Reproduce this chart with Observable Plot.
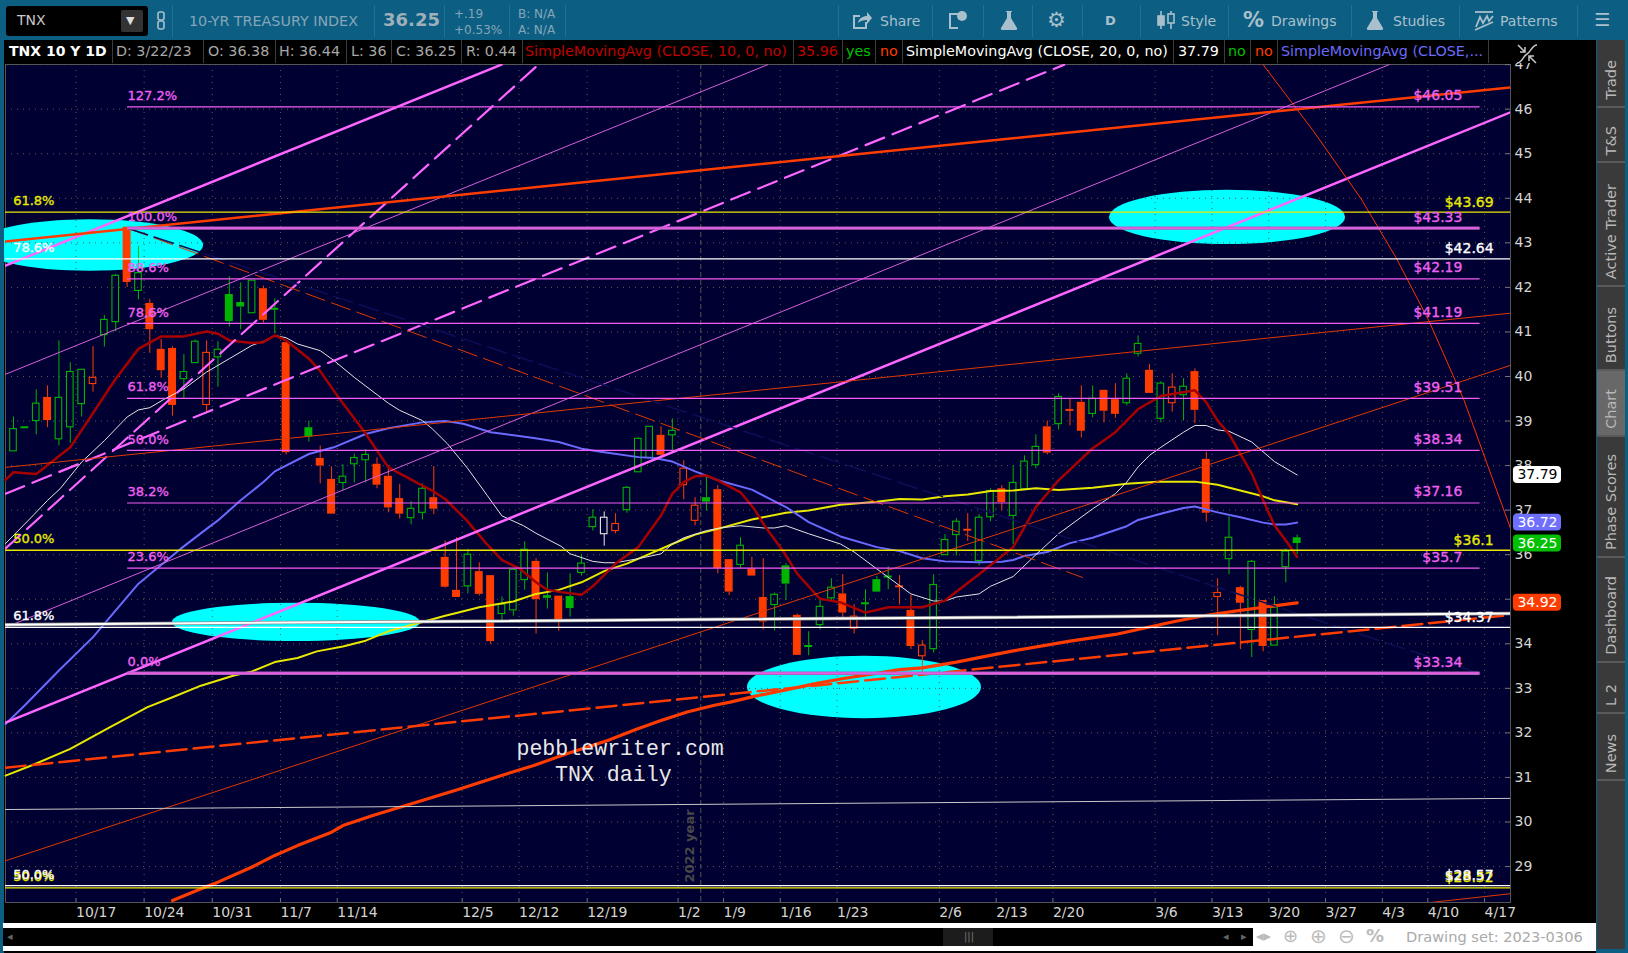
<!DOCTYPE html>
<html>
<head>
<meta charset="utf-8">
<script src="https://cdn.jsdelivr.net/npm/d3@7"></script>
<script src="https://cdn.jsdelivr.net/npm/@observablehq/plot@0.6"></script>
<style>
html,body{margin:0;padding:0;width:1628px;height:953px;overflow:hidden;background:#0c5e83;font-family:"DejaVu Sans",sans-serif}
#chart{position:absolute;left:0;top:0}
#chart svg{display:block;max-width:none}
.b{position:absolute}
.t{position:absolute;white-space:nowrap;line-height:1}
.hd{font-size:14.3px;top:44px;color:#a8a8a8}
.sep{position:absolute;top:40px;height:23px;width:1px;background:#3c3c3c}
.tb{position:absolute;top:5px;height:32px;width:1px;background:#1d7396}
.btn{font-size:14px;top:14px;color:#a9c0cc}
.ic{position:absolute;top:9px}
.tab{position:absolute;left:1597px;width:28px;background:#3a3a3a;border-bottom:2px solid #5a5a5a;box-sizing:border-box}
.tab span{position:absolute;left:6px;bottom:6px;writing-mode:vertical-rl;transform:rotate(180deg);white-space:nowrap;color:#b8b8b8;font-size:14.5px;line-height:16px}
</style>
</head>
<body>
<div id="chart"></div>

<!-- application chrome -->
<div class="b" style="left:0;top:0;width:4px;height:953px;background:#0c5e83"></div>
<div class="b" style="left:0;top:0;width:1628px;height:40px;background:#0c5e83"></div>
<div class="b" style="left:6px;top:6px;width:142px;height:30px;background:#000;border-radius:3px"></div>
<div class="t" style="left:17px;top:13px;font-size:14px;color:#c8c8c8">TNX</div>
<div class="b" style="left:121px;top:10px;width:22px;height:22px;background:#333;border-radius:2px"></div>
<div class="t" style="left:126px;top:15px;font-size:11px;color:#ddd">&#9660;</div>
<svg class="ic" style="left:156px;top:10px" width="10" height="22" fill="none" stroke="#a9c0cc" stroke-width="1.6"><rect x="2" y="2" width="6" height="8" rx="2"/><rect x="2" y="11" width="6" height="8" rx="2"/></svg>
<div class="tb" style="left:172px"></div>
<div class="t" style="left:189px;top:14px;font-size:14.3px;color:#86a6b8">10-YR TREASURY INDEX</div>
<div class="tb" style="left:374px"></div>
<div class="t" style="left:383px;top:11px;font-size:18px;font-weight:bold;color:#9fb0ba">36.25</div>
<div class="tb" style="left:444px"></div>
<div class="t" style="left:454px;top:8px;font-size:12px;color:#86a6b8">+.19</div>
<div class="t" style="left:454px;top:24px;font-size:12px;color:#86a6b8">+0.53%</div>
<div class="tb" style="left:509px"></div>
<div class="t" style="left:518px;top:8px;font-size:12px;color:#86a6b8">B: N/A</div>
<div class="t" style="left:518px;top:24px;font-size:12px;color:#86a6b8">A: N/A</div>
<div class="tb" style="left:565px"></div>

<div class="tb" style="left:838px"></div>
<svg class="ic" style="left:851px" width="22" height="22" fill="none" stroke="#a9c0cc" stroke-width="2"><path d="M15 13v6H3V7h6"/><path d="M7 14c1-5 5-7 9-7V3l5 6-5 6v-4c-4 0-7 1-9 3z" fill="#a9c0cc" stroke="none"/></svg>
<div class="t btn" style="left:880px">Share</div>
<div class="tb" style="left:932px"></div>
<svg class="ic" style="left:947px" width="22" height="22" fill="none" stroke="#a9c0cc" stroke-width="2"><path d="M11 19H3V5h9"/><circle cx="15" cy="7" r="5" fill="#a9c0cc" stroke="none"/></svg>
<div class="tb" style="left:983px"></div>
<svg class="ic" style="left:998px" width="22" height="22"><path d="M8 2h6v1h-1v6l6 10c.4 1-.2 2-1 2H4c-.8 0-1.400-1-1-2l6-10V3H8z" fill="#a9c0cc"/></svg>
<div class="tb" style="left:1032px"></div>
<div class="t" style="left:1047px;top:10px;font-size:21px;color:#a9c0cc">&#9881;</div>
<div class="tb" style="left:1082px"></div>
<div class="t" style="left:1105px;top:14px;font-size:13px;font-weight:bold;color:#a9c0cc">D</div>
<div class="tb" style="left:1140px"></div>
<svg class="ic" style="left:1155px" width="22" height="22" fill="none" stroke="#a9c0cc" stroke-width="1.6"><path d="M6 2v18M16 2v18"/><rect x="3" y="7" width="6" height="9" fill="#a9c0cc"/><rect x="13" y="5" width="6" height="9" fill="#0c5e83"/></svg>
<div class="t btn" style="left:1181px">Style</div>
<div class="tb" style="left:1228px"></div>
<div class="t" style="left:1243px;top:10px;font-size:21px;font-weight:bold;color:#a9c0cc">%</div>
<div class="t btn" style="left:1271px">Drawings</div>
<div class="tb" style="left:1351px"></div>
<svg class="ic" style="left:1364px" width="22" height="22"><path d="M8 2h6v1h-1v6l6 10c.4 1-.2 2-1 2H4c-.8 0-1.400-1-1-2l6-10V3H8z" fill="#a9c0cc"/></svg>
<div class="tb" style="left:1459px"></div>
<div class="t btn" style="left:1393px">Studies</div>
<svg class="ic" style="left:1473px" width="22" height="22" fill="none" stroke="#a9c0cc" stroke-width="1.8"><path d="M2 3h18"/><path d="M3 18l4-10 3 6 4-7 2 5 4-5"/><path d="M2 21l18-8"/></svg>
<div class="t btn" style="left:1500px">Patterns</div>
<div class="tb" style="left:1577px"></div>
<div class="t" style="left:1594px;top:11px;font-size:18px;color:#a9c0cc">&#9776;</div>

<!-- study header strip -->
<div class="b" style="left:4px;top:40px;width:1592px;height:23px;background:#000"></div>
<div class="t hd" style="left:9px;font-weight:bold;font-size:14px;color:#fff">TNX 10 Y 1D</div>
<div class="sep" style="left:112px"></div>
<div class="t hd" style="left:116px">D: 3/22/23</div>
<div class="sep" style="left:203px"></div>
<div class="t hd" style="left:208px">O: 36.38</div>
<div class="sep" style="left:275px"></div>
<div class="t hd" style="left:279px">H: 36.44</div>
<div class="sep" style="left:346px"></div>
<div class="t hd" style="left:351px">L: 36</div>
<div class="sep" style="left:391px"></div>
<div class="t hd" style="left:396px">C: 36.25</div>
<div class="sep" style="left:461px"></div>
<div class="t hd" style="left:466px">R: 0.44</div>
<div class="sep" style="left:522px"></div>
<div class="t hd" style="left:525px;color:#c00000">SimpleMovingAvg (CLOSE, 10, 0, no)</div>
<div class="sep" style="left:793px"></div>
<div class="t hd" style="left:797px;color:#c00000">35.96</div>
<div class="sep" style="left:842px"></div>
<div class="t hd" style="left:846px;color:#00c000">yes</div>
<div class="sep" style="left:875px"></div>
<div class="t hd" style="left:880px;color:#ff3c00">no</div>
<div class="sep" style="left:902px"></div>
<div class="t hd" style="left:906px;color:#fff">SimpleMovingAvg (CLOSE, 20, 0, no)</div>
<div class="sep" style="left:1173px"></div>
<div class="t hd" style="left:1178px;color:#fff">37.79</div>
<div class="sep" style="left:1224px"></div>
<div class="t hd" style="left:1228px;color:#00c000">no</div>
<div class="sep" style="left:1250px"></div>
<div class="t hd" style="left:1255px;color:#ff3c00">no</div>
<div class="sep" style="left:1277px"></div>
<div class="t hd" style="left:1281px;color:#6a6aff">SimpleMovingAvg (CLOSE,...</div>
<div class="sep" style="left:1488px"></div>
<svg class="b" style="left:1516px;top:43px" width="22" height="22" viewBox="0 0 22 22" fill="none" stroke="#c8c8c8" stroke-width="1.5"><path d="M1 20C6 20 7 13 11 11S16 2 21 2"/><path d="M2 2l7 7M4 9h5V4M20 20l-7-7M13 18v-5h5"/></svg>

<!-- right tabs -->
<div class="b" style="left:1596px;top:40px;width:32px;height:913px;background:#0c5e83"></div>
<div class="tab" style="top:40px;height:68px"><span>Trade</span></div>
<div class="tab" style="top:108px;height:55px"><span>T&amp;S</span></div>
<div class="tab" style="top:163px;height:124px"><span>Active Trader</span></div>
<div class="tab" style="top:287px;height:84px"><span>Buttons</span></div>
<div class="tab" style="top:371px;height:66px;background:#686868"><span>Chart</span></div>
<div class="tab" style="top:437px;height:121px"><span>Phase Scores</span></div>
<div class="tab" style="top:558px;height:105px"><span>Dashboard</span></div>
<div class="tab" style="top:663px;height:51px"><span>L 2</span></div>
<div class="tab" style="top:714px;height:67px"><span>News</span></div>
<div class="tab" style="top:781px;height:168px;border:0"></div>

<!-- bottom strip -->
<div class="b" style="left:3px;top:923px;width:1593px;height:28px;background:#fff"></div>
<div class="b" style="left:3px;top:928px;width:1250px;height:18px;background:#000"></div>
<div class="b" style="left:943px;top:928px;width:50px;height:18px;background:#1c1c1c"></div>
<div class="t" style="left:964px;top:932px;font-size:10px;color:#777">|||</div>
<div class="t" style="left:7px;top:931px;font-size:11px;color:#666">&#9666;</div>
<div class="t" style="left:1223px;top:931px;font-size:11px;color:#666">&#9666;</div>
<div class="t" style="left:1241px;top:931px;font-size:11px;color:#666">&#9656;</div>
<div class="t" style="left:1256px;top:929px;font-size:15px;color:#bbb">&#9666;&#9656;</div>
<div class="t" style="left:1283px;top:927px;font-size:18px;color:#bbb">&#8853;</div>
<div class="t" style="left:1310px;top:926px;font-size:20px;color:#bbb">&#8853;</div>
<div class="t" style="left:1338px;top:926px;font-size:20px;color:#bbb">&#8854;</div>
<div class="t" style="left:1366px;top:927px;font-size:18px;font-weight:bold;color:#bbb">%</div>
<div class="t" style="left:1406px;top:930px;font-size:14.6px;color:#aaa">Drawing set: 2023-0306</div>

<script>
// ---------- axes ----------
const priceTicks = [29,30,31,32,33,34,35,36,37,38,39,40,41,42,43,44,45,46,47];
const dateTickSlots = [5.5,11.5,17.5,23.5,28.5,39.5,44.5,50.5,58.5,62.5,67.5,72.5,81.5,86.5,91.5,100.5,105.5,110.5,115.5,120.5,124.5,129.5];
const dateTickLabels = ["10/17","10/24","10/31","11/7","11/14","12/5","12/12","12/19","1/2","1/9","1/16","1/23","2/6","2/13","2/20","3/6","3/13","3/20","3/27","4/3","4/10","4/17"];
const yearSlot = 60.5;

// ---------- daily candles ----------
const barSlots = [0,1,2,3,4,5,6,7,8,9,10,11,12,13,14,15,16,17,18,19,20,21,22,23,24,
26,27,28,29,30,31,32,33,34,35,36,37,38,39,40,41,42,43,44,45,46,47,48,49,
50,51,52,53,54,55,56,57,58,59,60,61,62,63,64,65,66,67,68,69,
70,71,72,73,74,75,76,77,78,79,80,81,82,83,84,85,86,87,88,89,
90,91,92,93,94,95,96,97,98,99,100,101,102,103,104,105,106,107,108,109,110,111,112,113];
const opens = [38.32,38.86,39.00,39.53,38.59,38.86,39.38,39.83,40.93,41.22,
43.35,41.92,41.64,40.61,40.63,39.94,40.30,39.36,40.43,41.84,
41.66,41.42,41.97,41.52,40.76,
38.85,38.16,37.69,37.61,
38.03,38.12,38.03,37.76,37.26,36.82,36.94,37.28,35.94,35.20,
35.29,35.62,35.53,34.67,34.75,35.43,35.85,35.08,35.07,35.06,
35.59,36.62,36.46,36.53,37.00,37.85,38.17,38.68,38.68,37.56,
36.76,37.28,37.46,35.89,35.77,35.68,35.04,34.87,35.75,34.64,
33.95,34.42,35.02,35.12,34.34,34.91,35.44,35.51,35.29,34.75,
33.72,33.88,35.99,36.44,36.56,35.86,36.84,37.48,36.87,37.47,
38.01,38.87,38.93,39.25,39.42,39.16,39.69,39.48,39.40,40.51,
40.14,39.05,39.40,39.58,40.11,38.14,35.05,35.90,35.26,34.31,
34.97,33.96,35.72,36.38];
const highs = [39.09,38.86,39.70,39.79,40.80,40.31,40.15,40.67,41.37,42.29,
43.35,42.92,41.73,40.83,40.67,40.49,40.82,40.80,40.78,42.24,
42.10,42.15,42.03,41.74,40.76,
39.00,38.44,37.97,38.02,
38.26,38.36,38.17,38.00,37.58,37.19,37.59,37.98,36.31,36.38,
36.12,35.82,35.53,35.05,35.66,36.29,35.91,35.59,35.07,35.57,
36.00,37.01,36.96,36.92,37.53,38.62,38.87,38.87,39.05,38.11,
37.28,37.76,37.55,35.89,36.38,35.94,35.91,35.14,35.80,34.67,
34.27,34.99,35.46,35.55,34.88,35.21,35.51,35.73,35.53,35.09,
34.07,35.55,36.45,36.81,36.92,36.90,37.48,37.55,38.00,38.22,
38.69,39.00,39.61,39.50,39.79,39.79,39.69,39.84,40.06,40.91,
40.27,39.88,40.06,39.95,40.17,38.30,35.46,36.85,35.29,35.87,
34.97,35.06,36.13,36.44];
const lows = [38.32,38.86,38.69,38.85,38.44,38.50,39.09,39.65,40.66,41.00,
42.00,41.72,40.52,39.96,39.11,39.50,40.30,39.19,39.76,41.11,
41.05,41.42,41.20,40.96,38.24,
38.53,37.59,36.91,37.44,
37.61,37.61,37.48,36.94,36.80,36.67,36.78,36.90,35.25,35.04,
35.12,35.07,33.99,34.46,34.62,35.20,34.22,34.78,34.28,34.60,
35.52,36.53,36.19,36.47,36.93,37.85,38.17,38.19,38.34,37.23,
36.65,36.98,35.57,35.08,35.68,35.52,34.31,34.29,34.97,33.74,
33.73,34.31,34.93,34.58,34.22,34.51,35.16,35.21,34.87,33.87,
33.33,33.79,35.99,35.97,36.30,35.75,36.74,36.99,36.23,37.47,
37.93,38.24,38.80,38.89,38.62,39.07,38.96,39.06,39.34,40.44,
39.62,38.96,39.20,39.00,38.94,36.73,34.18,35.55,33.87,33.69,
33.82,33.96,35.37,36.00];
const closes = [38.82,38.86,39.39,39.01,39.52,40.10,40.15,39.97,41.27,42.26,
42.11,42.32,41.05,40.13,39.35,40.10,40.78,40.53,40.60,41.23,
41.56,42.15,41.26,41.52,38.29,
38.64,37.99,36.91,37.75,
38.17,38.24,37.56,37.05,36.91,37.03,37.48,37.02,35.27,35.04,
36.00,35.11,34.05,34.88,35.66,36.11,34.99,35.02,34.49,34.79,
35.80,36.83,36.83,36.69,37.50,38.60,38.87,38.23,38.78,37.93,
37.10,37.18,35.69,35.16,36.20,35.52,34.49,35.10,35.34,33.74,
33.95,34.83,35.26,34.69,34.61,34.91,35.16,35.51,35.29,33.94,
33.96,35.32,36.33,36.74,36.56,36.83,37.43,37.17,37.61,38.09,
38.42,38.28,39.54,39.25,38.77,39.50,39.22,39.15,39.95,40.73,
39.62,39.84,39.75,39.77,39.24,36.93,35.14,36.38,34.91,35.84,
33.94,34.81,36.07,36.25];
const barTones = "gggrgggrgg" + "rgrrrggrgg" + "ggrgr" + "grrg" + "ggrrrggrrr" +
  "grrgggrgrg" + "ggwrgggrgr" + "rgrrgrrggr" + "gggrrgggrr" + "rgggrggrgg" + "grgrrgrrgg" + "rgrgrrrgrg" + "rggg";

// ---------- moving averages ----------
const sma10Slots = [-0.7,0,2,5,9,11,13,15,17,18,19,21,22,23,24,26,27,28.5,30.8,33,36,36.85,38,39.9,41.7,43,44.6,46,47,48.2,50,51,53,55,57,58,59,60,61,62,64,65.2,66.2,67.8,69,70.2,71,72.8,75,76,77,80,82,85,88,90,92,95,97,99,101,104,105,106,107,109,110,111,112,113];
const sma10Prices = [37.68,37.85,37.81,38.41,39.95,40.62,40.90,40.90,41.01,40.96,40.81,40.75,40.77,40.92,40.81,40.40,40.12,39.57,38.79,37.96,37.55,37.44,37.25,36.77,36.23,35.88,35.68,35.38,35.21,35.16,35.10,35.29,35.80,36.17,36.88,37.37,37.63,37.76,37.78,37.67,37.40,37.03,36.62,36.06,35.57,35.23,35.01,34.93,34.70,34.76,34.82,34.82,34.97,35.56,36.17,37.07,37.67,38.39,38.75,39.27,39.56,39.69,39.42,39.01,38.71,37.82,37.22,36.66,36.32,35.95];
const sma20Slots = [-0.7,1.8,3,4.1,6,8,10,11,12,13.2,15,17,19,21,22,23,24,25,27,28.2,30,33,34,36,36.85,38.2,40,41.7,43,44.9,46,48.2,49,51,52,53,55,57,58,59,61,62.2,64,66,67,68,70,72.8,74,76,79,81,82,83,85,86,88,90,92,95,97,98,99,100,101,103,104,105,106,107,109,111,113];
const sma20Prices = [36.25,36.9,37.22,37.48,38.08,38.56,39.09,39.25,39.30,39.48,39.72,40.10,40.40,40.70,40.79,40.92,40.87,40.73,40.58,40.36,39.98,39.40,39.24,39.01,38.83,38.49,37.93,37.33,36.87,36.65,36.48,36.19,36.02,35.85,35.82,35.82,35.91,36.02,36.24,36.38,36.54,36.60,36.65,36.60,36.60,36.65,36.47,36.24,36.06,35.68,35.12,34.96,34.96,35.05,35.12,35.29,35.51,36.00,36.47,37.03,37.37,37.63,37.97,38.23,38.41,38.75,38.90,38.90,38.80,38.77,38.53,38.09,37.79];
const sma50Slots = [-0.7,1,4,7,11,14.7,17,18,20,22,23,26,28.2,31,33,36,38,39.6,42,43.2,45.8,48,50,52,55,56.4,58,60,62,65,68,70,72.8,76,78,80,82,85,87,88,89,91,93,95,98,99,101,103,104,106,108,110,111,112,113];
const sma50Prices = [32.20,32.62,33.40,34.15,35.35,36.13,36.58,36.77,37.22,37.63,37.87,38.26,38.41,38.71,38.84,38.97,39.00,38.94,38.75,38.71,38.62,38.53,38.38,38.30,38.19,38.17,38.09,37.87,37.67,37.46,37.07,36.73,36.41,36.17,36.08,35.92,35.85,35.83,35.84,35.88,35.97,36.06,36.26,36.38,36.64,36.78,36.92,37.05,37.08,36.95,36.84,36.72,36.68,36.68,36.72];
const sma100Slots = [-0.7,1.8,5,8.5,11.8,14,16.5,19.4,21,23,25,26.7,29,31,33.2,36,38,39,41,44,46,48,50,52,54,56,58,60,62,65,68,70,72.8,76,78,80,82,84,86,88,90,92,95,98,100.7,104,106,108,110,111,113];
const sma100Prices = [31.04,31.29,31.64,32.13,32.58,32.80,33.06,33.29,33.38,33.59,33.68,33.83,33.94,34.07,34.30,34.49,34.63,34.69,34.82,34.95,35.12,35.21,35.38,35.63,35.80,36.02,36.24,36.45,36.58,36.79,36.94,36.99,37.12,37.19,37.25,37.24,37.31,37.35,37.43,37.44,37.49,37.45,37.50,37.59,37.64,37.64,37.57,37.44,37.31,37.22,37.13];
const sma200Slots = [14,17,18,21,23,25,28,29,31.7,35.83,39,42.9,45.8,48.7,52.3,54.9,57,59.3,61.7,63.1,65.2,68.1,70.5,72.8,78,80,83,88,93,97,102,105,108,110,113];
const sma200Prices = [28.24,28.55,28.65,28.99,29.25,29.47,29.77,29.92,30.15,30.47,30.72,31.04,31.27,31.53,31.83,32.09,32.28,32.47,32.62,32.69,32.82,32.97,33.10,33.21,33.42,33.46,33.59,33.84,34.06,34.21,34.49,34.64,34.75,34.82,34.92];

// ---------- drawn trend lines ----------
const trendSlots = [
  [-0.7,42.96],[-0.7,46.2],[-0.7,92.5],[-0.7,66.4],[-0.7,121.1],[-0.7,131.78],
  [-0.7,131.78],[-0.7,131.78],[-0.7,131.78],[124.65,131.78],
  [10.12,94.1],[10.12,129.1],[-0.7,131.16],[-0.7,131.78],[-0.7,131.78],[-0.7,131.78]
];
const trendPrices = [
  [42.49,47.0],[36.14,47.0],[37.37,47.0],[40.05,47.0],[34.37,47.0],[32.23,45.93],
  [43.03,46.49],[37.96,41.42],[29.13,40.25],[28.19,28.39],
  [43.32,35.49],[43.32,33.33],[31.22,34.63],[30.28,30.53],[34.43,34.68],[34.43,34.68]
];
const trendStyles = [
  {stroke:"#ff66ff",strokeWidth:2.5},
  {stroke:"#ff66ff",strokeWidth:2.2,strokeDasharray:"20 9"},
  {stroke:"#ff66ff",strokeWidth:2.2,strokeDasharray:"20 9"},
  {stroke:"#d860d8",strokeWidth:1},
  {stroke:"#d860d8",strokeWidth:1},
  {stroke:"#ff66ff",strokeWidth:2.5},
  {stroke:"#ff3c00",strokeWidth:2.5},
  {stroke:"#e03800",strokeWidth:1},
  {stroke:"#e03800",strokeWidth:1},
  {stroke:"#e03800",strokeWidth:1},
  {stroke:"#e03800",strokeWidth:1,strokeDasharray:"20 7"},
  {stroke:"#0e0e58",strokeWidth:1.5,strokeDasharray:"20 7"},
  {stroke:"#ff3c00",strokeWidth:2.5,strokeDasharray:"20 7"},
  {stroke:"#c8c8c8",strokeWidth:1},
  {stroke:"#8a8a8a",strokeWidth:3.5},
  {stroke:"#ffffff",strokeWidth:2}
];
const arcSlots = [110,114.4,118.6,121.7,124.6,127.7,131.78];
const arcPrices = [47.0,45.52,44.0,42.67,41.25,39.46,36.59];

// ---------- Fibonacci levels ----------
const fibPrices = [46.05,43.33,42.19,41.19,39.51,38.34,37.16,35.7,33.34];
const fibLabels = ["127.2%","100.0%","88.6%","78.6%","61.8%","50.0%","38.2%","23.6%","0.0%"];
const heavyFibPrices = [43.33,33.34];
const yellowPrices = [43.69,36.1,28.52];
const yellowLabels = ["61.8%","50.0%","50.0%"];
const whitePrices = [42.64,34.37,28.57];
const whiteLabels = ["78.6%","61.8%","50.0%"];

// ---------- highlight zones ----------
const zoneSlots = [6.78,106.87,24.9,74.91];
const zonePrices = [42.94,43.57,34.48,33.02];
const zoneHalfBars = [9.95,10.39,10.92,10.3];
const zoneHalfPrices = [0.58,0.61,0.43,0.70];

// ---------- price flags and note ----------
const flagPrices = [37.79,36.72,36.25,34.92];
const flagFills = ["#ffffff","#7070ff","#00c000","#ff3c00"];
const flagInks = ["#000000","#ffffff","#ffffff","#ffffff"];
const noteLines = ["pebblewriter.com","TNX daily"];
const notePrices = [31.66,31.07];
const noteSlots = [53.4,52.8];

// ---------- tables ----------
const toneColor = {g:"#00b400",r:"#ff3c00",w:"#e8e8e8"};
const bars = barSlots.map((slot,k)=>({slot,open:opens[k],high:highs[k],low:lows[k],close:closes[k],color:toneColor[barTones[k]]}));
const bodies = bars.filter(d=>d.open!==d.close);
const dashes = bars.filter(d=>d.open===d.close);
const series = (xs,ys)=>xs.map((x,k)=>({x,y:ys[k]}));
const xLeft = -0.704, xRight = 131.78;
const fibStart = 10.04, fibEnd = 129.1, fibText = 127.55, sideText = 130.3, sideStart = -0.03;
const flagLeft = 132.04, flagRight = 136.27, flagMid = 134.15, flagHalf = 0.19;

const dollars = v => "$" + v;
const gridStyle = {stroke:"#5a5c4c",strokeOpacity:1,strokeDasharray:"1 5"};
const inked = c => ({fill:c,stroke:c,strokeWidth:0.35});
const levelText = {fontSize:13,lineAnchor:"middle",dy:-11};
const sideLabel = {fontSize:14,lineAnchor:"middle",dy:-10};

const zones = (index, scales, values, dim, context) => {
  const ns = "http://www.w3.org/2000/svg";
  const g = context.document.createElementNS(ns,"g");
  zoneSlots.forEach((slot,k)=>{
    const e = context.document.createElementNS(ns,"ellipse");
    e.setAttribute("cx",scales.x(slot));
    e.setAttribute("cy",scales.y(zonePrices[k]));
    e.setAttribute("rx",Math.abs(scales.x(slot+zoneHalfBars[k])-scales.x(slot)));
    e.setAttribute("ry",Math.abs(scales.y(zonePrices[k]+zoneHalfPrices[k])-scales.y(zonePrices[k])));
    e.setAttribute("fill","#00ffff");
    g.appendChild(e);
  });
  return g;
};

const chart = Plot.plot({
  width:1628, height:953,
  marginLeft:5, marginRight:118, marginTop:64, marginBottom:51,
  style:{background:"#000",fontFamily:"'DejaVu Sans',sans-serif",fontSize:"14px",overflow:"hidden"},
  x:{type:"linear",domain:[xLeft,xRight],axis:null},
  y:{type:"linear",domain:[28.193,47.003],axis:null},
  color:{type:"identity"},
  marks:[
    Plot.frame({fill:"#000033",stroke:"#555"}),
    zones,
    Plot.gridY(priceTicks,gridStyle),
    Plot.gridX(dateTickSlots,gridStyle),
    Plot.ruleX([yearSlot],{stroke:"#55584a",strokeDasharray:"5 3"}),
    Plot.text(["2022 year"],{x:()=>yearSlot,y:()=>28.64,rotate:-90,textAnchor:"start",dx:-11,fontSize:13,fontWeight:"bold",fill:"#484848"}),

    // candles
    Plot.ruleX(bars,{x:"slot",y1:"high",y2:d=>Math.max(d.open,d.close),stroke:"color",strokeWidth:1}),
    Plot.ruleX(bars,{x:"slot",y1:d=>Math.min(d.open,d.close),y2:"low",stroke:"color",strokeWidth:1}),
    Plot.rect(bodies.filter(d=>d.close<d.open),{x1:d=>d.slot-0.35,x2:d=>d.slot+0.35,y1:"open",y2:"close",fill:"color",inset:0}),
    Plot.rect(bodies.filter(d=>d.close>d.open),{x1:d=>d.slot-0.29,x2:d=>d.slot+0.29,y1:"open",y2:"close",fill:"none",stroke:"color",strokeWidth:1.1,inset:0}),
    Plot.ruleY(dashes,{x1:d=>d.slot-0.35,x2:d=>d.slot+0.35,y:"close",stroke:"color",strokeWidth:2}),

    // studies
    Plot.line(series(sma200Slots,sma200Prices),{x:"x",y:"y",stroke:"#ff3c00",strokeWidth:3.2,clip:true}),
    Plot.line(series(sma100Slots,sma100Prices),{x:"x",y:"y",stroke:"#e8e800",strokeWidth:2}),
    Plot.line(series(sma50Slots,sma50Prices),{x:"x",y:"y",stroke:"#6a6aff",strokeWidth:2}),
    Plot.line(series(sma20Slots,sma20Prices),{x:"x",y:"y",stroke:"#e4e4e4",strokeWidth:1}),
    Plot.line(series(sma10Slots,sma10Prices),{x:"x",y:"y",stroke:"#a80000",strokeWidth:2.5}),

    // trend lines
    ...trendSlots.map((xs,k)=>Plot.line(series(xs,trendPrices[k]),{x:"x",y:"y",clip:true,...trendStyles[k]})),
    Plot.line(series(arcSlots,arcPrices),{x:"x",y:"y",stroke:"#ff3000",strokeWidth:1,clip:true}),

    // levels
    Plot.ruleY(heavyFibPrices,{x1:()=>fibStart,x2:()=>fibEnd,stroke:"#b060b8",strokeWidth:3.4}),
    Plot.ruleY(fibPrices,{x1:()=>fibStart,x2:()=>fibEnd,stroke:"#f45cf4",strokeWidth:1.2}),
    Plot.ruleY(yellowPrices,{stroke:"#e8e800",strokeWidth:1.3}),
    Plot.ruleY(whitePrices,{stroke:"#ffffff",strokeWidth:1.3}),
    Plot.text(fibPrices,{x:()=>fibStart,y:d=>d,text:(d,k)=>fibLabels[k],textAnchor:"start",...inked("#f060f0"),...levelText}),
    Plot.text(fibPrices,{x:()=>fibText,y:d=>d,text:dollars,textAnchor:"end",...inked("#f060f0"),fontSize:14,lineAnchor:"middle",dy:-11}),
    Plot.text(yellowPrices,{x:()=>sideStart,y:d=>d,text:(d,k)=>yellowLabels[k],textAnchor:"start",...inked("#e8e800"),...levelText}),
    Plot.text(whitePrices,{x:()=>sideStart,y:d=>d,text:(d,k)=>whiteLabels[k],textAnchor:"start",...inked("#ffffff"),...levelText}),
    Plot.text(yellowPrices,{x:()=>sideText,y:d=>d,text:dollars,textAnchor:"end",...inked("#e8e800"),...sideLabel}),
    Plot.text(whitePrices,{x:()=>sideText,y:d=>d,text:dollars,textAnchor:"end",...inked("#ffffff"),...sideLabel}),

    // note
    Plot.text(noteLines,{x:(d,k)=>noteSlots[k],y:(d,k)=>notePrices[k],text:d=>d,fontFamily:"'Liberation Mono',monospace",fontSize:21.6,fill:"#e8e8e8"}),

    // axes
    Plot.ruleY(priceTicks,{x1:()=>131.35,x2:()=>xRight,stroke:"#777"}),
    Plot.ruleX(dateTickSlots,{y1:()=>28.193,y2:()=>28.27,stroke:"#777"}),
    Plot.axisY(priceTicks,{anchor:"right",tickSize:0,tickPadding:4,textAnchor:"start",fontSize:14,fill:"#d4d4d4",label:null}),
    Plot.axisX(dateTickSlots,{anchor:"bottom",tickSize:0,tickPadding:5,textAnchor:"start",fontSize:14,fill:"#d4d4d4",label:null,
      tickFormat:d=>dateTickLabels[dateTickSlots.indexOf(d)]}),

    // price flags
    Plot.rect(flagPrices,{x1:()=>flagLeft,x2:()=>flagRight,y1:d=>d-flagHalf,y2:d=>d+flagHalf,fill:(d,k)=>flagFills[k],rx:4,inset:0}),
    Plot.text(flagPrices,{x:()=>flagMid,y:d=>d,text:d=>d.toFixed(2),fill:(d,k)=>flagInks[k],fontSize:14,lineAnchor:"middle"})
  ]
});
document.getElementById("chart").appendChild(chart);
</script>
</body>
</html>
